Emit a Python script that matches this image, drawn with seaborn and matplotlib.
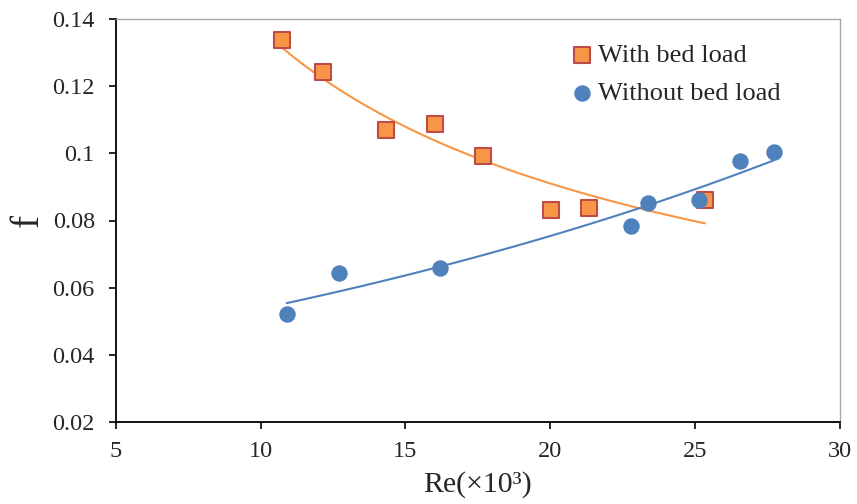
import numpy as np
import pandas as pd
import matplotlib
matplotlib.use("Agg")
import matplotlib.pyplot as plt
import seaborn as sns

# Data (Re in units of 10^3, friction factor f)
re_with = [10.73, 12.15, 14.32, 16.02, 17.67, 20.02, 21.33, 25.34]
f_with = [0.1337, 0.1242, 0.1069, 0.1087, 0.0992, 0.0831, 0.0837, 0.0861]

re_without = [10.9, 12.7, 16.19, 22.78, 23.37, 25.13, 26.55, 27.72]
f_without = [0.0522, 0.0644, 0.0659, 0.0784, 0.0852, 0.0861, 0.0977, 0.1004]

orange = "#F79646"
orange_edge = "#BE4B48"
blue = "#4F81BD"

sns.set_style("white")
plt.rcParams['font.family'] = ['Liberation Serif', 'DejaVu Serif']

df_with = pd.DataFrame({'Re': re_with, 'f': f_with})
df_without = pd.DataFrame({'Re': re_without, 'f': f_without})

# Trend lines: power fit for with bed load, exponential fit for without
b_w, a_w = np.polyfit(np.log(re_with), np.log(f_with), 1)
x_w = np.linspace(min(re_with), max(re_with), 100)
trend_w = pd.DataFrame({'Re': x_w, 'f': np.exp(a_w) * x_w ** b_w})

b_o, a_o = np.polyfit(re_without, np.log(f_without), 1)
x_o = np.linspace(min(re_without), max(re_without), 100)
trend_o = pd.DataFrame({'Re': x_o, 'f': np.exp(a_o) * np.exp(b_o * x_o)})

fig = plt.figure(figsize=(8.57, 5.04), dpi=100)
ax = fig.add_axes([0.135, 0.163, 0.845, 0.799])

sns.lineplot(data=trend_w, x='Re', y='f', color=orange, linewidth=1.5, ax=ax, legend=False)
sns.lineplot(data=trend_o, x='Re', y='f', color=blue, linewidth=1.5, ax=ax, legend=False)

sns.scatterplot(data=df_with, x='Re', y='f', marker='s', s=120, color=orange,
                edgecolor=orange_edge, linewidth=1.5, label='With bed load', ax=ax, zorder=3)
sns.scatterplot(data=df_without, x='Re', y='f', marker='o', s=140, color=blue,
                edgecolor=blue, linewidth=0, label='Without bed load', ax=ax, zorder=3)

ax.set_xlim(5, 30)
ax.set_ylim(0.02, 0.14)
ax.set_xticks([5, 10, 15, 20, 25, 30])
ax.set_xticklabels(['5', '10', '15', '20', '25', '30'])
ax.set_yticks([0.02, 0.04, 0.06, 0.08, 0.1, 0.12, 0.14])
ax.set_yticklabels(['0.02', '0.04', '0.06', '0.08', '0.1', '0.12', '0.14'])

ax.tick_params(axis='both', labelsize=17.5, direction='out', length=5, width=1.2,
               color='black', left=True, bottom=True)
ax.tick_params(axis='x', pad=9)
ax.tick_params(axis='y', pad=10)

for side in ['top', 'right']:
    ax.spines[side].set_color('#A6A6A6')
    ax.spines[side].set_linewidth(1)
for side in ['left', 'bottom']:
    ax.spines[side].set_color('black')
    ax.spines[side].set_linewidth(1.3)

ax.set_xlabel('Re(×10³)', fontsize=21.5, labelpad=6)
ax.set_ylabel('f', fontsize=28, labelpad=4)

ax.legend(loc='upper left', bbox_to_anchor=(0.63, 0.94), frameon=False, fontsize=19,
          handlelength=0.8, handletextpad=0.2, labelspacing=0.57, borderaxespad=0,
          borderpad=0)

plt.savefig('out.png', dpi=100)
